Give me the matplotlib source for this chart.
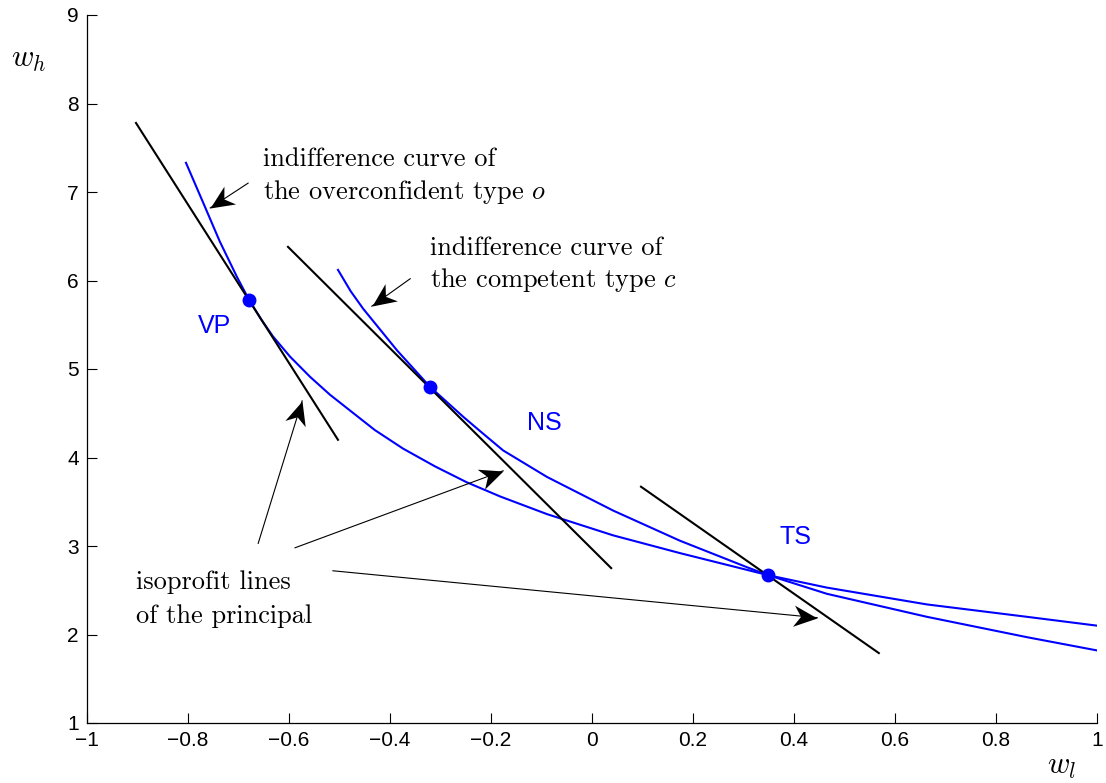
import numpy as np
import matplotlib
matplotlib.use("Agg")
import matplotlib.pyplot as plt
from matplotlib.path import Path
from matplotlib.markers import MarkerStyle
from matplotlib.transforms import Affine2D

plt.rcParams['mathtext.fontset'] = 'cm'
plt.rcParams['font.family'] = ['Liberation Sans', 'DejaVu Sans']

# indifference curve of the overconfident type o
o_x = [-0.804, -0.770, -0.737, -0.703, -0.679, -0.655, -0.632, -0.598, -0.558,
       -0.519, -0.479, -0.430, -0.374, -0.311, -0.248, -0.182, -0.089, 0.042,
       0.174, 0.307, 0.349, 0.465, 0.663, 0.861, 1.0]
o_y = [7.33, 6.88, 6.44, 6.04, 5.78, 5.56, 5.37, 5.14, 4.91,
       4.71, 4.53, 4.31, 4.10, 3.90, 3.72, 3.56, 3.36, 3.12,
       2.92, 2.73, 2.67, 2.53, 2.34, 2.20, 2.10]

# indifference curve of the competent type c
c_x = [-0.503, -0.478, -0.453, -0.386, -0.321, -0.255, -0.222, -0.176, -0.089, 0.042,
       0.174, 0.307, 0.349, 0.465, 0.663, 0.861, 1.0]
c_y = [6.12, 5.88, 5.68, 5.21, 4.80, 4.46, 4.30, 4.08, 3.78, 3.40,
       3.06, 2.76, 2.67, 2.46, 2.20, 1.97, 1.82]

# isoprofit lines (start, end)
iso_x = [(-0.903, -0.503), (-0.602, 0.038), (0.097, 0.568)]
iso_y = [(7.78, 4.20), (6.38, 2.75), (3.67, 1.79)]

# contracts
pt_names = ['VP', 'NS', 'TS']
pt_x = [-0.679, -0.321, 0.349]
pt_y = [5.78, 4.80, 2.67]
lbl_x = [-0.748, -0.095, 0.403]
lbl_y = [5.49, 4.39, 3.10]

# annotation arrows: tail -> tip
arr_tail = [(-0.681, 7.10), (-0.360, 6.02), (-0.661, 3.03), (-0.588, 2.98), (-0.513, 2.72)]
arr_tip = [(-0.756, 6.82), (-0.436, 5.71), (-0.574, 4.64), (-0.176, 3.85), (0.446, 2.19)]

fig = plt.figure(figsize=(11.06, 7.83), dpi=100)
ax = fig.add_axes([87/1106, 60/783, 1010/1106, 708/783])
ax.set_xlim(-1, 1)
ax.set_ylim(1, 9)

ax.plot(o_x, o_y, color='#0000ff', lw=1.5)
ax.plot(c_x, c_y, color='#0000ff', lw=1.5)
for xs, ys in zip(iso_x, iso_y):
    ax.plot(xs, ys, color='k', lw=1.5)
ax.plot(pt_x, pt_y, 'o', color='#0000ff', ms=9, zorder=5)
for name, x, y in zip(pt_names, lbl_x, lbl_y):
    ax.text(x, y, name, color='#0000ff', fontsize=18, ha='center', va='center')

serif = dict(family='cmr10', fontsize=19, va='baseline', ha='left')
ax.text(-0.651, 7.29, 'indifference curve of', **serif)
ax.text(-0.651, 6.92, 'the overconfident type $o$', **serif)
ax.text(-0.321, 6.29, 'indifference curve of', **serif)
ax.text(-0.321, 5.93, 'the competent type $c$', **serif)
ax.text(-0.903, 2.51, 'isoprofit lines', **serif)
ax.text(-0.903, 2.13, 'of the principal', **serif)

# arrows with a notched (MATLAB-like) head
head = Path([(0, 0), (-1, 0.45), (-0.7, 0), (-1, -0.45), (0, 0)],
            [Path.MOVETO, Path.LINETO, Path.LINETO, Path.LINETO, Path.CLOSEPOLY])
for tail, tip in zip(arr_tail, arr_tip):
    ax.plot([tail[0], tip[0]], [tail[1], tip[1]], color='k', lw=0.8)
    p0 = ax.transData.transform(tail)
    p1 = ax.transData.transform(tip)
    ang = np.degrees(np.arctan2(p1[1] - p0[1], p1[0] - p0[0]))
    m = MarkerStyle(head, transform=Affine2D().rotate_deg(ang))
    ax.plot(tip[0], tip[1], marker=m, ms=34, color='k', mew=0, linestyle='none')

xt = [-1, -0.8, -0.6, -0.4, -0.2, 0, 0.2, 0.4, 0.6, 0.8, 1]
ax.set_xticks(xt)
ax.set_xticklabels([('%g' % v).replace('-', '\u2212') for v in xt])
ax.set_yticks(range(1, 10))
ax.tick_params(direction='in', length=7, width=0.8, labelsize=15, pad=6)
ax.spines['top'].set_visible(False)
ax.spines['right'].set_visible(False)
ax.spines['left'].set_linewidth(0.9)
ax.spines['bottom'].set_linewidth(0.9)

fig.text(29/1106, 1 - 59/783, '$w_h$', fontsize=22, ha='center', va='center')
fig.text(1062/1106, 1 - 766/783, '$w_l$', fontsize=22, ha='center', va='center')

fig.savefig('out.png', dpi=100)
